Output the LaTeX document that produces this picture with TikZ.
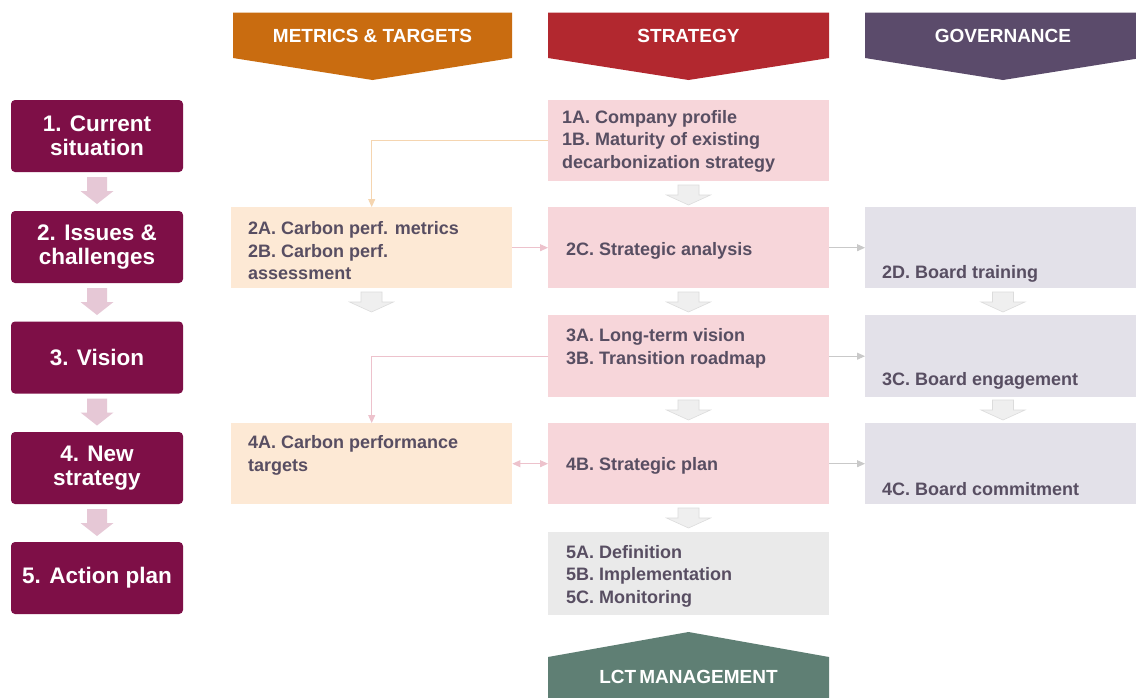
\documentclass[tikz,border=0pt]{standalone}
\usepackage{fontspec}
\setmainfont{Liberation Sans}
\usetikzlibrary{arrows.meta}
\definecolor{maroon}{HTML}{7E0F47}
\definecolor{hdorange}{HTML}{C96C10}
\definecolor{hdred}{HTML}{B2282F}
\definecolor{hdpurple}{HTML}{5B4B6B}
\definecolor{hdteal}{HTML}{5F7F74}
\definecolor{pinkbox}{HTML}{F7D6DA}
\definecolor{peachbox}{HTML}{FDE9D5}
\definecolor{govbox}{HTML}{E3E1E9}
\definecolor{greybox}{HTML}{EAEAEA}
\definecolor{txtc}{HTML}{584E62}
\definecolor{larrc}{HTML}{E6C8D6}
\definecolor{barrfill}{HTML}{EFEFEF}
\definecolor{barrdraw}{HTML}{DCDCDC}
\definecolor{lnpeach}{HTML}{F5D5B0}
\definecolor{lnpink}{HTML}{EDC2CC}
\definecolor{lngrey}{HTML}{C9C9C9}
\tikzset{
  stepnum/.style={rounded corners=4pt, fill=maroon, text=white,
    font=\bfseries\fontsize{22.5}{24}\selectfont, align=center,
    minimum width=172pt, minimum height=72pt, inner sep=0pt},
  box/.style={anchor=north west, minimum width=281pt, minimum height=81pt, inner sep=0pt},
  txt/.style={anchor=west, font=\bfseries\fontsize{18}{22.5}\selectfont,
    text=txtc, align=left, inner sep=0pt},
  hdtxt/.style={font=\bfseries\fontsize{19}{22}\selectfont, text=white, inner sep=0pt},
  conn/.style={line width=0.9pt, -{Triangle[length=8pt,width=7pt]}},
  darr/.pic={\path[pic actions] (-10.5,0) -- (10.5,0) -- (10.5,10) -- (22,10) -- (0,20)
      -- (-22,10) -- (-10.5,10) -- cycle;},
  larr/.pic={\path[pic actions] (-10,0) -- (10,0) -- (10,14) -- (16.5,14) -- (0,27)
      -- (-16.5,14) -- (-10,14) -- cycle;},
  barr/.style={fill=barrfill, draw=barrdraw, line width=0.6pt},
}
\begin{document}
\begin{tikzpicture}[x=1pt,y=-1pt]
\useasboundingbox (0,0) rectangle (1136,697);
\clip (0,0) rectangle (1136,697);
\fill[white] (0,0) rectangle (1136,697);

% header chevrons
\fill[hdorange] (233,12.7) -- (512,12.7) -- (512,58) -- (372.5,80) -- (233,58) -- cycle;
\fill[hdred] (548,12.7) -- (829,12.7) -- (829,58) -- (688.5,80) -- (548,58) -- cycle;
\fill[hdpurple] (865,12.7) -- (1141,12.7) -- (1141,58) -- (1003,80) -- (865,58) -- cycle;
\node[hdtxt] (hm) at (372.5,36) {METRICS \& TARGETS};
\node[hdtxt] (hs) at (688.5,36) {STRATEGY};
\node[hdtxt] (hg) at (1003,36) {GOVERNANCE};

% bottom LCT management
\fill[hdteal] (548,700) -- (548,657) -- (688.5,632) -- (829,657) -- (829,700) -- cycle;
\node[hdtxt] (hl) at (688.5,677) {LCT\,MANAGEMENT};

% left step boxes
\node[stepnum] (p1) at (97,136) {1. Current\\situation};
\node[stepnum] (p2) at (97,247) {2. Issues \&\\challenges};
\node[stepnum] (p3) at (97,357.5) {3. Vision};
\node[stepnum] (p4) at (97,468) {4. New\\strategy};
\node[stepnum] (p5) at (97,578) {5. Action plan};
\foreach \y in {177,288,398.5,509}
  \pic[fill=larrc] at (97,\y) {larr};

% strategy column
\node[box, fill=pinkbox] (s1) at (548,100) {};
\node[box, fill=pinkbox] (s2) at (548,207) {};
\node[box, fill=pinkbox, minimum height=82pt] (s3) at (548,315) {};
\node[box, fill=pinkbox] (s4) at (548,423) {};
\node[box, fill=greybox, minimum height=83pt] (s5) at (548,532) {};

% metrics column
\node[box, fill=peachbox] (m2) at (231,207) {};
\node[box, fill=peachbox] (m4) at (231,423) {};

% governance column
\node[box, fill=govbox, minimum width=276pt] (g2) at (865,207) {};
\node[box, fill=govbox, minimum width=276pt, minimum height=82pt] (g3) at (865,315) {};
\node[box, fill=govbox, minimum width=276pt] (g4) at (865,423) {};

% block arrows
\foreach \y in {185,292,400,508}
  \pic[barr] at (688.5,\y) {darr};
\pic[barr] at (371.5,292) {darr};
\pic[barr] at (1003,292) {darr};
\pic[barr] at (1003,400) {darr};

% texts
\node[txt] (t1) at (562,141) {1A. Company profile\\1B. Maturity of existing\\decarbonization strategy};
\node[txt] (t2) at (566,251) {2C. Strategic analysis};
\node[txt] (t3) at (566,348.5) {3A. Long-term vision\\3B. Transition roadmap};
\node[txt] (t4) at (566,466) {4B. Strategic plan};
\node[txt] (t5) at (566,576) {5A. Definition\\5B. Implementation\\5C. Monitoring};
\node[txt] (t6) at (248,251) {2A. Carbon perf. metrics\\2B. Carbon perf.\\assessment};
\node[txt] (t7) at (248,455.5) {4A. Carbon performance\\targets};
\node[txt] (t8) at (882,274) {2D. Board training};
\node[txt] (t9) at (882,381) {3C. Board engagement};
\node[txt] (t10) at (882,489) {4C. Board commitment};

% connectors
\draw[conn, draw=lnpeach] (s1.west) -- (s1.west -| m2.north) -- (m2.north);
\draw[conn, draw=lnpink] (s3.west) -- (s3.west -| m4.north) -- (m4.north);
\draw[conn, draw=lnpink] (m2.east) -- (s2.west);
\draw[line width=0.9pt, draw=lnpink, {Triangle[length=8pt,width=7pt]}-{Triangle[length=8pt,width=7pt]}] (m4.east) -- (s4.west);
\draw[conn, draw=lngrey] (s2.east) -- (g2.west);
\draw[conn, draw=lngrey] (s3.east) -- (g3.west);
\draw[conn, draw=lngrey] (s4.east) -- (g4.west);
\end{tikzpicture}
\end{document}
